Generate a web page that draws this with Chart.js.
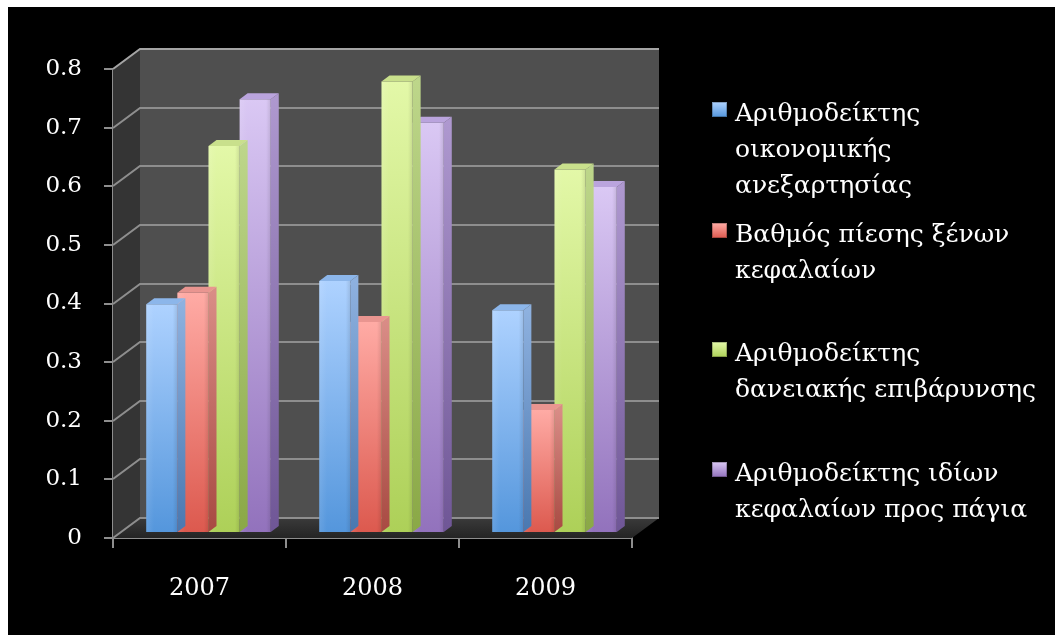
<!DOCTYPE html>
<html>
<head>
<meta charset="utf-8">
<title>Αριθμοδείκτες 2007-2009</title>
<script src="https://cdn.jsdelivr.net/npm/chart.js@4.4.0/dist/chart.umd.min.js"></script>
<style>
  html, body { margin: 0; padding: 0; background: #000; }
  #wrap { position: relative; width: 1055px; height: 635px; overflow: hidden; }
  canvas { display: block; }
  .legend-item {
    position: absolute;
    left: 712px;
    color: #fff;
    font-family: 'DejaVu Serif', serif;
    font-size: 25px;
    line-height: 36px;
  }
  .legend-box { position: absolute; left: 0; top: 0; width: 15px; height: 15px; }
  .legend-text { position: absolute; left: 23px; top: -7px; white-space: nowrap; }
</style>
</head>
<body>
<div id="wrap">
  <canvas id="ratioChart" width="1055" height="635"></canvas>
  <div id="legend"></div>
</div>
<script>
// categories and series
const years = ['2007', '2008', '2009'];
const seriesLines = [
    ['Αριθμοδείκτης', 'οικονομικής', 'ανεξαρτησίας'],
    ['Βαθμός πίεσης ξένων', 'κεφαλαίων'],
    ['Αριθμοδείκτης', 'δανειακής επιβάρυνσης'],
    ['Αριθμοδείκτης ιδίων', 'κεφαλαίων προς πάγια']
];
const independence = [0.39, 0.43, 0.38];
const foreignCapital = [0.41, 0.36, 0.21];
const borrowing = [0.66, 0.77, 0.62];
const equityToFixed = [0.74, 0.70, 0.59];
const yTicks = [0, 0.1, 0.2, 0.3, 0.4, 0.5, 0.6, 0.7, 0.8];

// face colours per series: front top/bottom, side top/bottom, cap
const palette = [
    { top: '#aed2ff', bottom: '#5496dc', sideTop: '#8eb1df', sideBottom: '#4a78b0', cap: '#8cb6ea' },
    { top: '#ffaba5', bottom: '#dc594e', sideTop: '#d98c86', sideBottom: '#a84a42', cap: '#e99590' },
    { top: '#e3f8a8', bottom: '#add058', sideTop: '#bdd68a', sideBottom: '#8aa846', cap: '#c9e08c' },
    { top: '#dac8f4', bottom: '#9272bc', sideTop: '#ae98cf', sideBottom: '#6f5696', cap: '#baa4dd' }
];

// 3D offsets: back wall depth, bar position inside the depth, bar thickness
const WALL_DX = 27, WALL_DY = -20;
const BAR_DX = 9, BAR_DY = -5;
const CAP_DX = 8, CAP_DY = -6;
const GRID_COLOR = '#8e8e8e';

function frontFill(i) {
    return (c) => {
        const chart = c.chart;
        if (!chart.chartArea || c.raw === undefined) return palette[i].bottom;
        const y = chart.scales.y;
        const g = chart.ctx.createLinearGradient(0, y.getPixelForValue(c.raw), 0, y.getPixelForValue(0));
        g.addColorStop(0, palette[i].top);
        g.addColorStop(1, palette[i].bottom);
        return g;
    };
}

const stage3d = {
    id: 'stage3d',
    beforeDraw(chart) {
        const ctx = chart.ctx;
        ctx.save();
        ctx.fillStyle = '#000';
        ctx.fillRect(0, 0, chart.width, chart.height);
        ctx.fillStyle = '#fff';
        ctx.fillRect(0, 0, chart.width, 7);
        ctx.fillRect(0, 0, 8, chart.height);
        ctx.restore();
    },
    beforeDatasetsDraw(chart) {
        const ctx = chart.ctx;
        const { left, right, top, bottom } = chart.chartArea;
        const y = chart.scales.y;
        ctx.save();

        // side wall
        ctx.fillStyle = '#343434';
        ctx.beginPath();
        ctx.moveTo(left, bottom);
        ctx.lineTo(left + WALL_DX, bottom + WALL_DY);
        ctx.lineTo(left + WALL_DX, top + WALL_DY);
        ctx.lineTo(left, top);
        ctx.closePath();
        ctx.fill();

        // back wall
        ctx.fillStyle = '#4f4f4f';
        ctx.fillRect(left + WALL_DX, top + WALL_DY, right - left, bottom - top);

        // floor
        const fg = ctx.createLinearGradient(0, bottom + WALL_DY, 0, bottom);
        fg.addColorStop(0, '#3a3a3a');
        fg.addColorStop(1, '#242424');
        ctx.fillStyle = fg;
        ctx.beginPath();
        ctx.moveTo(left, bottom);
        ctx.lineTo(left + WALL_DX, bottom + WALL_DY);
        ctx.lineTo(right + WALL_DX, bottom + WALL_DY);
        ctx.lineTo(right, bottom);
        ctx.closePath();
        ctx.fill();

        // gridlines across side wall and back wall
        ctx.lineWidth = 2;
        y.ticks.forEach((t, k) => {
            const py = Math.round(y.getPixelForValue(t.value));
            ctx.strokeStyle = k === y.ticks.length - 1 ? '#a4a4a4' : GRID_COLOR;
            ctx.beginPath();
            ctx.moveTo(left, py);
            ctx.lineTo(left + WALL_DX, py + WALL_DY);
            ctx.lineTo(right + WALL_DX, py + WALL_DY);
            ctx.stroke();
        });
        ctx.restore();
    },
    beforeDatasetDraw(chart) {
        chart.ctx.save();
        chart.ctx.translate(BAR_DX, BAR_DY);
    },
    afterDatasetDraw(chart, args) {
        const ctx = chart.ctx;
        const col = palette[args.index];
        args.meta.data.forEach((bar) => {
            const xl = bar.x - bar.width / 2;
            const xr = bar.x + bar.width / 2;
            const yt = bar.y;
            const yb = bar.base;

            // soft vertical shading on the front face
            const sh = ctx.createLinearGradient(xl, 0, xr, 0);
            sh.addColorStop(0, 'rgba(255,255,255,0.10)');
            sh.addColorStop(0.25, 'rgba(255,255,255,0)');
            sh.addColorStop(0.85, 'rgba(0,0,0,0)');
            sh.addColorStop(1, 'rgba(0,0,0,0.10)');
            ctx.fillStyle = sh;
            ctx.fillRect(xl, yt, xr - xl, yb - yt);

            // right side face
            const sg = ctx.createLinearGradient(0, yt, 0, yb);
            sg.addColorStop(0, col.sideTop);
            sg.addColorStop(1, col.sideBottom);
            ctx.fillStyle = sg;
            ctx.beginPath();
            ctx.moveTo(xr, yt);
            ctx.lineTo(xr + CAP_DX, yt + CAP_DY);
            ctx.lineTo(xr + CAP_DX, yb + CAP_DY);
            ctx.lineTo(xr, yb);
            ctx.closePath();
            ctx.fill();

            // top cap
            ctx.fillStyle = col.cap;
            ctx.beginPath();
            ctx.moveTo(xl, yt);
            ctx.lineTo(xl + CAP_DX, yt + CAP_DY);
            ctx.lineTo(xr + CAP_DX, yt + CAP_DY);
            ctx.lineTo(xr, yt);
            ctx.closePath();
            ctx.fill();
        });
        ctx.restore();
    }
};

const seriesValues = [independence, foreignCapital, borrowing, equityToFixed];

const ratioChart = new Chart(document.getElementById('ratioChart'), {
    type: 'bar',
    data: {
        labels: years,
        datasets: seriesValues.map((vals, i) => ({
            label: seriesLines[i].join(' '),
            data: vals,
            backgroundColor: frontFill(i),
            borderWidth: 0,
            categoryPercentage: 0.72,
            barPercentage: 1.0,
            clip: false
        }))
    },
    plugins: [stage3d],
    options: {
        responsive: false,
        animation: false,
        layout: { padding: { left: 8, top: 69, right: 423, bottom: 0 } },
        plugins: {
            legend: { display: false },
            tooltip: { enabled: false }
        },
        scales: {
            x: {
                afterFit: (s) => { s.height = 97; },
                border: { display: true, color: GRID_COLOR, width: 2 },
                grid: { offset: true, drawOnChartArea: false, drawTicks: true, tickLength: 10, color: GRID_COLOR, lineWidth: 2 },
                ticks: { color: '#fff', font: { family: 'DejaVu Serif', size: 24 }, padding: 26 }
            },
            y: {
                min: 0,
                max: 0.8,
                afterFit: (s) => { s.width = 105; },
                afterBuildTicks: (s) => { s.ticks = yTicks.map(v => ({ value: v })); },
                border: { display: true, color: GRID_COLOR, width: 2 },
                grid: { drawOnChartArea: false, drawTicks: true, tickLength: 9, color: GRID_COLOR, lineWidth: 2 },
                ticks: {
                    color: '#fff',
                    font: { family: 'DejaVu Serif', size: 23 },
                    padding: 22,
                    callback: (v) => v === 0 ? '0' : v.toFixed(1)
                }
            }
        }
    }
});

// legend with wrapped series names
const legendEl = document.getElementById('legend');
const legendTops = [102, 223, 342, 462];
seriesLines.forEach((lines, i) => {
    const item = document.createElement('div');
    item.className = 'legend-item';
    item.style.top = legendTops[i] + 'px';
    const box = document.createElement('div');
    box.className = 'legend-box';
    box.style.background = `linear-gradient(180deg, ${palette[i].top}, ${palette[i].bottom})`;
    box.style.boxShadow = 'inset 0 0 0 1px rgba(0,0,0,0.25)';
    const txt = document.createElement('div');
    txt.className = 'legend-text';
    txt.innerHTML = lines.join('<br>');
    item.appendChild(box);
    item.appendChild(txt);
    legendEl.appendChild(item);
});
</script>
</body>
</html>
